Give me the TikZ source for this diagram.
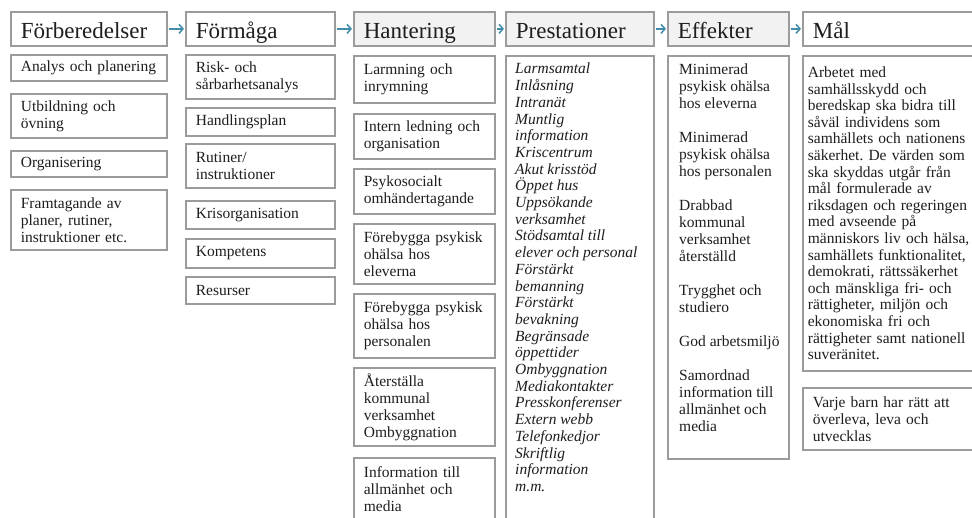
\documentclass[tikz,border=0pt]{standalone}
\usepackage{fontspec}
\setmainfont{Liberation Serif}
\usetikzlibrary{arrows.meta}
\definecolor{bord}{RGB}{155,155,155}
\definecolor{headfill}{RGB}{242,242,242}
\definecolor{arr}{RGB}{64,140,170}
\definecolor{txt}{RGB}{30,30,30}
\frenchspacing
\begin{document}
\begin{tikzpicture}[x=1pt,y=-1pt,
  base/.style={draw=bord, line width=1.7pt, fill=white, anchor=north west, inner xsep=10pt, inner ysep=2pt, align=left, text=txt},
  head/.style={base, minimum height=34pt, inner ysep=0pt, font=\fontsize{23}{24}\selectfont, execute at begin node={\rule[-5pt]{0pt}{29pt}}},
  grayhead/.style={head, fill=headfill},
  item/.style={base, font=\fontsize{15.5}{17}\selectfont},
  frame/.style={draw=bord, line width=1.7pt, fill=white, anchor=north west, inner sep=0pt},
  plain/.style={anchor=north west, inner sep=0pt, align=left, text=txt, font=\fontsize{15.5}{16.7}\selectfont},
  flow/.style={draw=arr, line width=1.5pt, -{Straight Barb[length=4pt,width=9pt]}, shorten <=1pt, shorten >=1pt}
]
\path[use as bounding box, clip] (0,0) rectangle (972,517);

% headers
\node[head, text width=136pt] (h1) at (10,11) {Förberedelser};
\node[head, text width=129pt] (h2) at (185,11) {Förmåga};
\node[grayhead, text width=121pt] (h3) at (353,11) {Hantering};
\node[grayhead, text width=128pt] (h4) at (505,11) {Prestationer};
\node[grayhead, text width=101pt] (h5) at (667,11) {Effekter};
\node[head, text width=180pt] (h6) at (802,11) {Mål};

\draw[flow] (h1) -- (h2);
\draw[flow] (h2) -- (h3);
\draw[flow] (h3) -- (h4);
\draw[flow] (h4) -- (h5);
\draw[flow] (h5) -- (h6);

% column 1
\node[item, text width=136pt, minimum height=26pt] (a1) at (10,54) {Analys och planering};
\node[item, text width=136pt, minimum height=44pt] (a2) at (10,93) {Utbildning och\\övning};
\node[item, text width=136pt, minimum height=26pt] (a3) at (10,150) {Organisering};
\node[item, text width=136pt, minimum height=60pt] (a4) at (10,189) {Framtagande av\\planer, rutiner,\\instruktioner etc.};

% column 2
\node[item, text width=129pt, minimum height=44pt] (b1) at (185,54) {Risk- och\\sårbarhetsanalys};
\node[item, text width=129pt, minimum height=28pt] (b2) at (185,107) {Handlingsplan};
\node[item, text width=129pt, minimum height=44pt] (b3) at (185,143) {Rutiner/\\instruktioner};
\node[item, text width=129pt, minimum height=28pt] (b4) at (185,200) {Krisorganisation};
\node[item, text width=129pt, minimum height=29pt] (b5) at (185,238) {Kompetens};
\node[item, text width=129pt, minimum height=27pt] (b6) at (185,276) {Resurser};

% column 3
\node[item, text width=121pt, minimum height=47pt] (c1) at (353,55) {Larmning och\\inrymning};
\node[item, text width=121pt, minimum height=45pt] (c2) at (353,113) {Intern ledning och\\organisation};
\node[item, text width=121pt, minimum height=45pt] (c3) at (353,168) {Psykosocialt\\omhändertagande};
\node[item, text width=121pt, minimum height=60pt] (c4) at (353,223) {Förebygga psykisk\\ohälsa hos\\eleverna};
\node[item, text width=121pt, minimum height=64pt] (c5) at (353,293) {Förebygga psykisk\\ohälsa hos\\personalen};
\node[item, text width=121pt, minimum height=78pt] (c6) at (353,367) {Återställa\\kommunal\\verksamhet\\Ombyggnation};
\node[item, text width=121pt, minimum height=62pt] (c7) at (353,457) {Information till\\allmänhet och\\media};

% column 4
\node[frame, minimum width=148pt, minimum height=480pt] (d) at (505,55) {};
\node[plain, font=\fontsize{15.5}{16.7}\selectfont\itshape] (dt) at (515,63) {Larmsamtal\\Inlåsning\\Intranät\\Muntlig\\information\\Kriscentrum\\Akut krisstöd\\Öppet hus\\Uppsökande\\verksamhet\\Stödsamtal till\\elever och personal\\Förstärkt\\bemanning\\Förstärkt\\bevakning\\Begränsade\\öppettider\\Ombyggnation\\Mediakontakter\\Presskonferenser\\Extern webb\\Telefonkedjor\\Skriftlig\\information\\m.m.};

% column 5
\node[frame, minimum width=121pt, minimum height=403pt] (e) at (667,55) {};
\node[plain, font=\fontsize{15.5}{17}\selectfont] (et) at (679,64) {Minimerad\\psykisk ohälsa\\hos eleverna\\[17pt]Minimerad\\psykisk ohälsa\\hos personalen\\[17pt]Drabbad\\kommunal\\verksamhet\\återställd\\[17pt]Trygghet och\\studiero\\[17pt]God arbetsmiljö\\[17pt]Samordnad\\information till\\allmänhet och\\media};

% column 6
\node[item, inner xsep=5pt, text width=190pt, minimum height=315pt, font=\fontsize{15.5}{16.6}\selectfont] (f1) at (802,55) {Arbetet med\\samhällsskydd och\\beredskap ska bidra till\\såväl individens som\\samhällets och nationens\\säkerhet. De värden som\\ska skyddas utgår från\\mål formulerade av\\riksdagen och regeringen\\med avseende på\\människors liv och hälsa,\\samhällets funktionalitet,\\demokrati, rättssäkerhet\\och mänskliga fri- och\\rättigheter, miljön och\\ekonomiska fri och\\rättigheter samt nationell\\suveränitet.};
\node[item, text width=180pt, minimum height=62pt] (f2) at (802,387) {Varje barn har rätt att\\överleva, leva och\\utvecklas};
\end{tikzpicture}
\end{document}
